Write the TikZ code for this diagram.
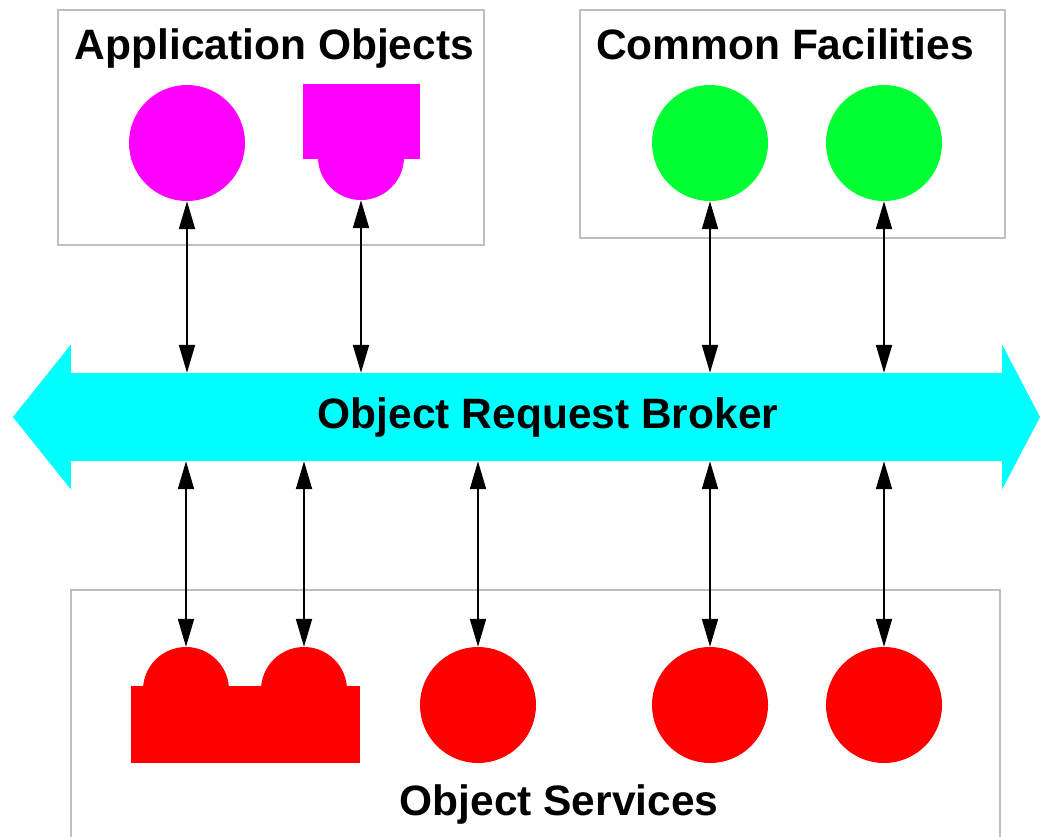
\documentclass[tikz,border=0pt]{standalone}
\usepackage{fontspec}
\setmainfont{Liberation Sans}
\usepackage{tikz}
\usetikzlibrary{arrows.meta,calc,positioning}
\definecolor{boxgray}{RGB}{191,191,191}
\definecolor{appmag}{RGB}{255,0,255}
\definecolor{facgreen}{RGB}{0,255,51}
\definecolor{orbcyan}{RGB}{0,255,255}
\definecolor{svcred}{RGB}{255,0,0}
\newcommand{\titlefont}{\fontsize{42.5}{50}\selectfont\bfseries}
\tikzset{%
	group/.style  = {draw=boxgray, line width=2pt, rectangle, inner sep=0pt},
	title/.style  = {font=\titlefont, anchor=base, inner sep=0pt},
	obj/.style    = {circle, inner sep=0pt, minimum size=116pt},
	half/.style   = {circle, inner sep=0pt, minimum size=86pt},
	link/.style   = {line width=2pt, {Triangle[length=28pt,width=16pt]}-{Triangle[length=28pt,width=16pt]}},
}
\begin{document}
\begin{tikzpicture}[x=1pt,y=-1pt]
		\useasboundingbox (0,0) rectangle (1040,836);
		% groups
		\node[group, minimum width=426pt, minimum height=235pt] (aobox) at (271,127.5) {};
		\node[group, minimum width=425pt, minimum height=228pt] (cfbox) at (792.5,124) {};
		\draw[boxgray, line width=2pt] (71,840) -- (71,590) -- (1000,590) -- (1000,840);
		\node[title] (aotitle) at (274.5,59) {Application Objects};
		\node[title] (cftitle) at (785,59) {Common Facilities};
		\node[title] (ostitle) at (559,815) {Object Services};
		% object request broker
		\node[fill=orbcyan, minimum width=931pt, minimum height=88pt, inner sep=0pt] (orb) at (536.5,417) {};
		\fill[orbcyan] (orb.north west) -- ++(0,-28) -- (13,417) -- ($(orb.south west)+(0,28)$) -- cycle;
		\fill[orbcyan] (orb.north east) -- ++(0,-28) -- (1040,417) -- ($(orb.south east)+(0,28)$) -- cycle;
		\node[title] (orbtitle) at (548,428) {Object Request Broker};
		% application objects
		\node[obj, fill=appmag] (ao1) at (187,143) {};
		\fill[appmag] (303,84) rectangle (420,159);
		\node[half, fill=appmag] (ao2) at (361,157) {};
		% common facilities
		\node[obj, fill=facgreen] (cf1) at (710,143) {};
		\node[obj, fill=facgreen] (cf2) at (884,143) {};
		% object services
		\fill[svcred] (131,686) rectangle (360,763);
		\node[half, fill=svcred] (os1) at (186,690) {};
		\node[half, fill=svcred] (os2) at (304,690) {};
		\node[obj, fill=svcred] (os3) at (478,705) {};
		\node[obj, fill=svcred] (os4) at (710,705) {};
		\node[obj, fill=svcred] (os5) at (884,705) {};
		% links
		\foreach \n in {ao1,ao2,cf1,cf2}
			\draw[link] (\n.south) -- (\n.south |- orb.north);
		\foreach \n in {os1,os2,os3,os4,os5}
			\draw[link] (\n.north |- orb.south) -- (\n.north);
	\end{tikzpicture}
\end{document}
